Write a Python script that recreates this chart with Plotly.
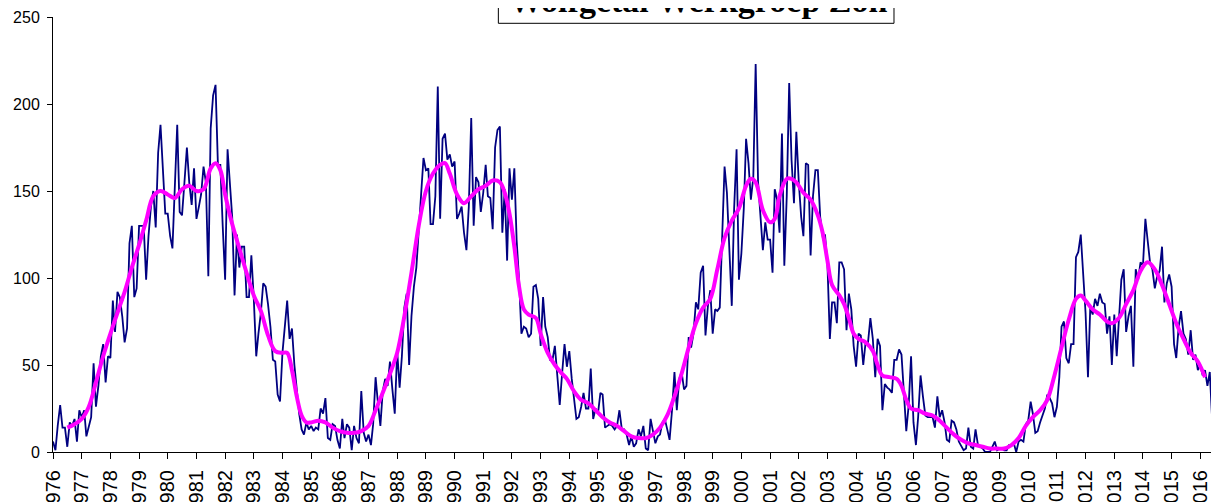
import pandas as pd
import plotly.graph_objects as go

# Monthly Wolf numbers (Werkgroep Zon)
wolf_1976_1979 = [
    6, 1, 15, 27, 14, 14, 3, 17, 15, 19, 6, 24,
    20, 24, 9, 14, 20, 51, 26, 38, 55, 62, 40, 55,
    54, 87, 69, 92, 89, 78, 63, 71, 120, 130, 89, 94,
    130, 130, 130, 99, 124, 141, 150, 129, 172, 188, 160, 137,
]
wolf_1980_1989 = [
    137, 124, 117, 150, 188, 138, 136, 155, 175, 155, 142, 163,
    134, 141, 148, 164, 155, 101, 186, 205, 211, 165, 165, 130,
    99, 174, 152, 135, 90, 125, 106, 118, 118, 89, 89, 113,
    88, 55, 68, 80, 97, 95, 85, 72, 53, 52, 33, 29,
    57, 75, 87, 65, 71, 50, 37, 22, 13, 10, 17, 13,
    15, 12, 14, 13, 25, 22, 31, 8, 7, 16, 15, 7,
    2, 19, 8, 16, 14, 1, 15, 8, 5, 35, 11, 6,
    10, 4, 16, 43, 28, 15, 35, 42, 38, 52, 36, 22,
    58, 37, 55, 83, 91, 50, 78, 95, 106, 125, 145, 169,
    162, 163, 131, 131, 147, 210, 134, 180, 183, 168, 171, 164,
]
wolf_1990_1999 = [
    167, 134, 137, 141, 126, 116, 141, 192, 130, 158, 155, 138,
    149, 165, 147, 146, 128, 175, 185, 187, 126, 151, 110, 163,
    145, 163, 122, 99, 68, 72, 71, 66, 68, 95, 96, 88,
    61, 89, 72, 66, 53, 53, 61, 46, 27, 45, 62, 49,
    58, 42, 32, 19, 20, 26, 34, 25, 25, 48, 19, 25,
    22, 34, 33, 14, 15, 16, 15, 13, 15, 24, 13, 13,
    10, 4, 9, 3, 5, 13, 9, 15, 2, 1, 19, 11,
    5, 9, 10, 17, 19, 13, 7, 24, 46, 24, 42, 46,
    36, 38, 66, 60, 68, 86, 82, 103, 107, 67, 84, 93,
    68, 82, 81, 83, 122, 164, 149, 118, 84, 140, 174, 99,
]
wolf_2000_2009 = [
    114, 140, 180, 166, 145, 158, 223, 155, 137, 116, 132, 122,
    122, 103, 151, 145, 126, 183, 107, 147, 212, 168, 143, 184,
    155, 135, 124, 166, 165, 113, 147, 162, 162, 135, 124, 125,
    108, 65, 86, 86, 74, 109, 109, 105, 70, 91, 82, 61,
    49, 68, 67, 50, 63, 63, 77, 65, 43, 65, 61, 24,
    39, 37, 36, 34, 53, 53, 59, 56, 34, 12, 27, 55,
    17, 4, 20, 44, 32, 21, 20, 20, 20, 14, 32, 20,
    24, 17, 7, 6, 18, 17, 13, 6, 3, 1, 2, 14,
    3, 2, 13, 4, 3, 2, 0, 0, 0, 3, 6, 1,
    2, 2, 1, 1, 4, 4, 5, 0, 6, 7, 6, 16,
]
wolf_2010_2016 = [
    18, 29, 22, 11, 12, 17, 21, 25, 33, 31, 28, 20,
    26, 43, 72, 75, 54, 51, 62, 62, 112, 115, 125, 99,
    80, 43, 83, 79, 88, 84, 91, 86, 85, 68, 78, 50,
    79, 55, 78, 99, 105, 69, 78, 84, 49, 105, 99, 109,
    107, 134, 122, 109, 105, 94, 101, 104, 118, 86, 97, 102,
    95, 62, 54, 72, 81, 68, 65, 56, 70, 53, 56, 47,
    50, 44, 47, 38, 46, 18, 31, 46,
]

# Smoothed curve, read at selected months (month index from Jan 1976)
smooth_month = [
    6, 9, 12, 15, 18, 21, 24, 27, 30, 33, 36, 39, 42, 45, 48, 51, 54, 57, 60, 63,
    66, 68, 70, 72, 75, 78, 81, 84, 87, 90, 93, 96, 98, 100, 102, 104, 106, 108,
    111, 114, 117, 120, 123, 126, 129, 132, 135, 138, 141, 144, 147, 150, 153,
    156, 159, 162, 164, 166, 169, 172, 175, 178, 181, 184, 187, 189, 191, 193,
    195, 197, 199, 202, 204, 207, 210, 213, 215, 218, 221, 224, 227, 230, 233,
    236, 239, 242, 245, 248, 251, 254, 257, 260, 263, 266, 269, 272, 275, 278,
    281, 284, 287, 290, 292, 294, 297, 300, 302, 304, 307, 309, 311, 314, 317,
    320, 322, 324, 326, 329, 331, 333, 335, 337, 340, 343, 345, 347, 350, 353,
    355, 357, 359, 362, 365, 368, 371, 374, 377, 380, 383, 386, 389, 392, 395,
    398, 401, 404, 407, 410, 413, 416, 419, 422, 425, 428, 430, 432, 435, 438,
    441, 443, 446, 449, 452, 455, 458, 461, 464, 467, 470, 473, 476, 479, 482,
]
smooth_value = [
    14, 16, 19, 26, 40, 55, 68, 80, 92, 106, 119, 133, 147, 150, 148, 146, 151, 153, 150, 151,
    163, 166, 162, 148, 131, 117, 103, 90, 81, 67, 58, 57, 57, 47, 32, 21, 17, 17,
    18, 17, 14, 12, 11, 11, 12, 15, 24, 34, 45, 57, 78, 103, 130,
    150, 160, 165, 166, 160, 148, 143, 147, 151, 153, 156, 155, 149, 137, 118,
    95, 82, 79, 77, 68, 57, 50, 45, 42, 35, 30, 28, 24, 20, 17,
    15, 12, 9, 8, 8, 10, 14, 21, 32, 45, 60, 74, 83, 88, 105,
    123, 133, 140, 153, 157, 155, 139, 132, 134, 147, 157, 157, 155, 149, 145,
    136, 126, 110, 96, 90, 85, 77, 68, 65, 63, 58, 50, 44, 43, 42,
    38, 30, 25, 24, 22, 21, 18, 14, 10, 7, 5, 4, 3, 2, 2,
    2, 4, 8, 15, 20, 24, 30, 44, 60, 76, 88, 90, 87, 82, 79,
    75, 74, 77, 85, 93, 104, 109, 105, 96, 85, 74, 65, 57, 52, 43,
]

year_labels = [str(y) for y in range(1976, 2017)]
title_text = "Wolfgetal Werkgroep Zon"

wolf = wolf_1976_1979 + wolf_1980_1989 + wolf_1990_1999 + wolf_2000_2009 + wolf_2010_2016
start = pd.Timestamp("1976-01-01")
dates = pd.date_range(start, periods=len(wolf), freq="MS")
smooth_dates = [start + pd.DateOffset(months=m) for m in smooth_month]
tick_dates = [pd.Timestamp(f"{y}-01-01") for y in year_labels]

fig = go.Figure()
fig.add_trace(go.Scatter(
    x=dates, y=wolf, mode="lines",
    line=dict(color="#000080", width=1.8),
    hoverinfo="x+y", showlegend=False,
))
fig.add_trace(go.Scatter(
    x=smooth_dates, y=smooth_value, mode="lines",
    line=dict(color="#FF00FF", width=4, shape="spline", smoothing=1.0),
    showlegend=False,
))

# page body has an 8px margin: figure sized to fill the rest of the window
fig.update_layout(
    width=1211, height=494,
    margin=dict(l=45, r=2, t=9, b=50, autoexpand=False),
    paper_bgcolor="white", plot_bgcolor="white",
    font=dict(family="Liberation Sans, Arial, sans-serif", size=16, color="black"),
    shapes=[dict(
        type="rect", xref="paper", yref="paper",
        x0=0.3826, x1=0.7225, y0=0.9855, y1=1.12,
        line=dict(color="black", width=1), fillcolor="white", layer="above",
    )],
    annotations=[dict(
        text=f"<b>{title_text}</b>",
        xref="paper", yref="paper", x=0.5543, y=0.9954,
        xanchor="center", yanchor="bottom", showarrow=False,
        font=dict(family="Liberation Serif, Times New Roman, serif", size=34, color="black"),
        borderpad=0, borderwidth=0,
    )],
)
fig.update_xaxes(
    range=[dates[0], dates[-1]],
    tickvals=tick_dates, ticktext=year_labels, tickangle=-90,
    ticks="outside", ticklen=6, tickcolor="black", tickwidth=1,
    showline=True, linecolor="black", linewidth=1,
    showgrid=False, zeroline=False, automargin=False,
    tickfont=dict(size=20), ticklabelstandoff=3,
)
fig.update_yaxes(
    range=[0, 250], dtick=50, tick0=0,
    ticks="outside", ticklen=5, tickcolor="black", tickwidth=1,
    showline=True, linecolor="black", linewidth=1,
    showgrid=False, zeroline=False, automargin=False,
    tickfont=dict(size=16), ticklabelstandoff=4,
)

fig.write_html("out.html")
